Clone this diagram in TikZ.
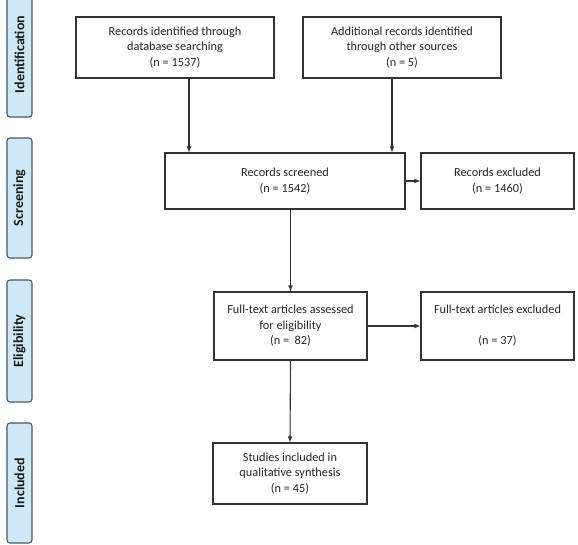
\documentclass[tikz,border=0pt]{standalone}
\usepackage{fontspec}
\setmainfont{Carlito}
\usetikzlibrary{positioning}
\definecolor{lineclr}{HTML}{333333}
\definecolor{phasefill}{HTML}{CFE8F8}
\definecolor{phaseedge}{HTML}{4A5864}
\tikzset{
  box/.style={rectangle,draw=lineclr,line width=1.1pt,align=center,inner sep=0pt,
    font=\fontsize{12.3}{15.5}\selectfont,text=black!85},
  phase/.style={rectangle,rounded corners=3pt,draw=phaseedge,line width=1.1pt,fill=phasefill,
    rotate=90,minimum height=25pt,inner sep=0pt,font=\fontsize{14}{16}\selectfont\bfseries,text=black!90},
  link/.style={-latex,draw=lineclr,line width=1.1pt}
}
\begin{document}
\begin{tikzpicture}[x=1pt,y=-1pt]
\useasboundingbox (0,0) rectangle (578,544);
  % side labels
  \node(ident)[phase,minimum width=125pt] at (19.5,54.5){Identification};
  \node(screen)[phase,minimum width=120pt] at (19.5,198){Screening};
  \node(elig)[phase,minimum width=122pt] at (19.5,341){Eligibility};
  \node(incl)[phase,minimum width=120pt] at (19.5,483){Included};
  % flow boxes
  \node(dbrec)[box,minimum width=198pt,minimum height=61pt] at (175,47.5)
    {Records identified through\\database searching\\(n = 1537)};
  \node(otherrec)[box,minimum width=198pt,minimum height=61pt] at (402,47.5)
    {Additional records identified\\through other sources\\(n = 5)};
  \node(screened)[box,minimum width=240pt,minimum height=56pt] at (285,181)
    {Records screened\\(n = 1542)};
  \node(excluded)[box,minimum width=153pt,minimum height=56pt] at (497.5,181)
    {Records excluded\\(n = 1460)};
  \node(assessed)[box,minimum width=153pt,minimum height=68pt] at (290.5,326)
    {Full-text articles assessed\\for eligibility\\(n =\ \ 82)};
  \node(ftexcl)[box,minimum width=153pt,minimum height=68pt] at (497.5,326)
    {Full-text articles excluded\\[15.5pt](n = 37)};
  \node(included)[box,minimum width=154pt,minimum height=61pt] at (290,473.5)
    {Studies included in\\qualitative synthesis\\(n = 45)};
\draw[link]([xshift=14pt]dbrec.south)--([xshift=14pt]dbrec.south |- screened.north);
\draw[link]([xshift=-10pt]otherrec.south)--([xshift=-10pt]otherrec.south |- screened.north);
\draw[link](screened)--(excluded);
\draw[link](assessed.north |- screened.south)--(assessed.north);
\draw[link](assessed)--(ftexcl);
\draw[link](assessed.south)--(included.north);
\end{tikzpicture}
\end{document}
